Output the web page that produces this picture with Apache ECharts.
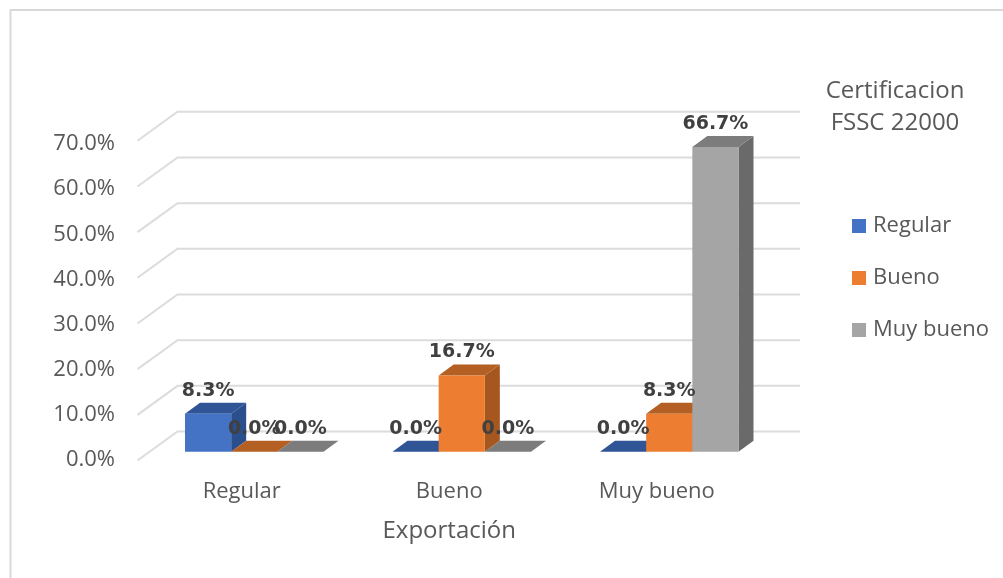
<!DOCTYPE html>
<html><head><meta charset="utf-8">
<style>html,body{margin:0;padding:0;background:#fff}#c{width:1003px;height:578px}</style>
<script src="https://cdn.jsdelivr.net/npm/echarts@6/dist/echarts.min.js"></script>
</head><body><div id="c"></div>
<script>
const categories = ['Regular', 'Bueno', 'Muy bueno'];
const regular = [8.3, 0, 0];
const bueno = [0, 16.7, 8.3];
const muyBueno = [0, 0, 66.7];
const gridTicks = [0, 10, 20, 30, 40, 50, 60, 70];
const seriesNames = ['Regular', 'Bueno', 'Muy bueno'];
const seriesValues = [regular, bueno, muyBueno];
const faceColors = [
  {front: '#4472C4', top: '#2F5597', side: '#2B4E8C'},
  {front: '#ED7D31', top: '#B45F23', side: '#A65720'},
  {front: '#A5A5A5', top: '#7C7C7C', side: '#6A6A6A'}
];
const DX = 15, DY = 11;
const BAR_FRAC = 0.2225;

function barRenderer(si) {
  return function (params, api) {
    const cat = api.value(0), v = api.value(1);
    const base = api.coord([cat, 0]);
    const top = api.coord([cat, v]);
    const w = api.size([1, 0])[0] * BAR_FRAC;
    const x0 = base[0] + (si - 1.5) * w, x1 = x0 + w;
    const y0 = base[1], y1 = top[1];
    const c = faceColors[si];
    const children = [];
    if (v > 0) {
      children.push({type: 'polygon', shape: {points: [[x1, y0], [x1 + DX, y0 - DY], [x1 + DX, y1 - DY], [x1, y1]]}, style: {fill: c.side}});
    }
    children.push({type: 'polygon', shape: {points: [[x0, y1], [x0 + DX, y1 - DY], [x1 + DX, y1 - DY], [x1, y1]]}, style: {fill: c.top}});
    if (v > 0) {
      children.push({type: 'rect', shape: {x: x0, y: y1, width: w, height: y0 - y1}, style: {fill: c.front}});
    }
    children.push({type: 'text', z2: 100, style: {
      text: v.toFixed(1) + '%', x: (x0 + x1) / 2, y: y1 - 23, align: 'center', verticalAlign: 'middle',
      font: 'bold 19px "DejaVu Sans"', fill: '#404040'
    }});
    return {type: 'group', children};
  };
}

function gridRenderer(params, api) {
  const v = api.value(1);
  const a = api.coord([0, v]), b = api.coord([2, v]);
  const band = api.size([1, 0])[0];
  const L = a[0] - band / 2, R = b[0] + band / 2, y = a[1];
  return {type: 'polyline', shape: {points: [[L - 13, y + 8.8], [L + 27, y - 20.2], [R + 27, y - 20.2]]},
    style: {stroke: '#DCDCDC', lineWidth: 2, fill: 'none'}};
}

const font = '"Open Sans"';
const chart = echarts.init(document.getElementById('c'), null, {renderer: 'canvas'});
chart.setOption({
  animation: false,
  backgroundColor: '#fff',
  title: {
    text: 'Certificacion\nFSSC 22000', left: 890, top: 70, textAlign: 'center',
    textStyle: {fontFamily: font, fontWeight: 'normal', fontSize: 24, color: '#595959', lineHeight: 32}
  },
  legend: {
    data: seriesNames, orient: 'vertical', left: 847, top: 210, itemWidth: 14, itemHeight: 14, itemGap: 30, icon: 'rect',
    textStyle: {fontFamily: font, fontSize: 22, color: '#595959', padding: [0, 0, 0, 2]}
  },
  graphic: [{type: 'polyline', shape: {points: [[10.5, 578], [10.5, 10], [1003, 10]]}, style: {stroke: '#D9D9D9', lineWidth: 2, fill: 'none'}}],
  grid: [
    {left: 150.5, width: 622.5, top: 132, height: 319.7},
    {left: 138, width: 622.5, top: 144, height: 316}
  ],
  xAxis: [
    {type: 'category', data: categories, gridIndex: 0, show: false},
    {type: 'category', data: categories, gridIndex: 1, axisLine: {show: false}, axisTick: {show: false},
      axisLabel: {fontFamily: font, fontSize: 22, color: '#595959', margin: 21},
      name: 'Exportación', nameLocation: 'middle', nameGap: 59,
      nameTextStyle: {fontFamily: font, fontSize: 24, color: '#595959'}}
  ],
  yAxis: [
    {type: 'value', min: 0, max: 70, interval: 10, gridIndex: 0, show: false},
    {type: 'value', min: 0, max: 70, interval: 10, gridIndex: 1, axisLine: {show: false}, axisTick: {show: false}, splitLine: {show: false},
      axisLabel: {fontFamily: font, fontSize: 22, color: '#595959', margin: 23, formatter: v => v.toFixed(1) + '%'}}
  ],
  series: [
    {type: 'custom', name: '_grid', coordinateSystem: 'cartesian2d', xAxisIndex: 0, yAxisIndex: 0, clip: false, silent: true,
      data: gridTicks.map(t => [0, t]), renderItem: gridRenderer}
  ].concat(seriesNames.map((n, si) => ({
    type: 'custom', name: n, coordinateSystem: 'cartesian2d', xAxisIndex: 0, yAxisIndex: 0, clip: false,
    itemStyle: {color: faceColors[si].front},
    data: seriesValues[si].map((v, i) => [i, v]), renderItem: barRenderer(si)
  })))
});
</script></body></html>
